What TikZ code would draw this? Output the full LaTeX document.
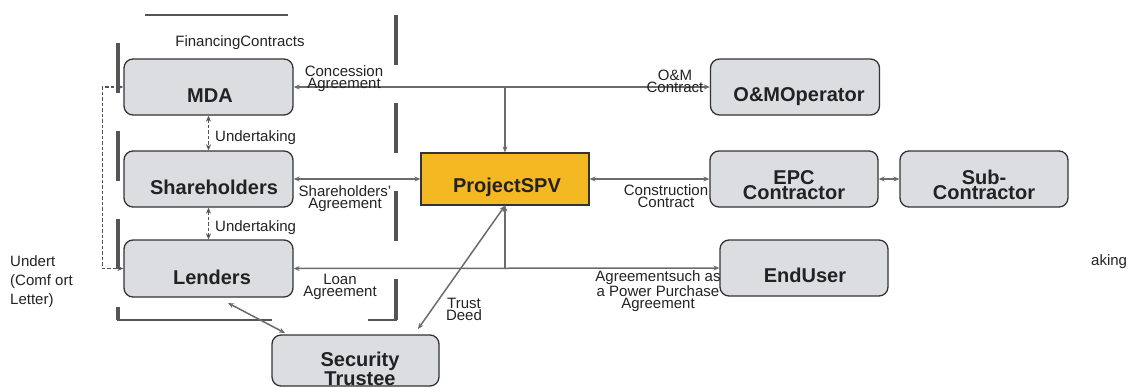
\documentclass[tikz,border=0pt]{standalone}
\usepackage{fontspec}
\setmainfont{Liberation Sans}
\usetikzlibrary{arrows.meta}
\definecolor{boxfill}{HTML}{DCDDE0}
\definecolor{boxline}{HTML}{333333}
\definecolor{spvfill}{HTML}{F4B922}
\definecolor{wire}{HTML}{6B6B6B}
\definecolor{barcol}{HTML}{555555}
\definecolor{ink}{HTML}{222222}
\tikzset{
  party/.style={draw=boxline, fill=boxfill, line width=1.3pt, rounded corners=9pt,
    inner sep=0pt, anchor=center},
  spvbox/.style={draw=boxline, fill=spvfill, line width=1.2pt, inner sep=0pt, anchor=center},
  partytxt/.style={text=ink, align=center, inner sep=0pt,
    font=\fontsize{20}{14}\selectfont\bfseries},
  lbl/.style={text=ink, align=center, inner sep=0pt, font=\fontsize{15}{12}\selectfont},
  sidetxt/.style={text=ink, align=left, inner sep=0pt, font=\fontsize{15}{19}\selectfont},
  conn/.style={draw=wire, line width=1.5pt, >={Stealth[length=6pt,width=5pt]}},
  dconn/.style={conn, draw=barcol, dash pattern=on 3.5pt off 2pt},
  bar/.style={draw=barcol, line width=4pt},
  thin/.style={draw=barcol, line width=1.5pt}
}
\begin{document}
\begin{tikzpicture}[x=1pt, y=-1pt]
\useasboundingbox (0,0) rectangle (1128,388);

% financing contracts group outline
\draw[thin] (145,15) -- (288,15);
\draw[bar, dash pattern=on 50pt off 38pt] (118,43) -- (118,320);
\draw[bar, dash pattern=on 50pt off 38pt] (396,15) -- (396,320);
\draw[thin] (117,320) -- (272,320);
\draw[thin] (368,320) -- (397,320);
\node[lbl] (fin) at (240,43) {FinancingContracts};

% parties
\node[party, minimum width=169pt, minimum height=56pt] (mda) at (208.5,87) {};
\node[party, minimum width=169pt, minimum height=56pt] (sh) at (208.5,179) {};
\node[party, minimum width=169pt, minimum height=57pt] (len) at (208.5,268.5) {};
\node[party, minimum width=167pt, minimum height=51pt] (st) at (355.5,360.5) {};
\node[spvbox, minimum width=168pt, minimum height=52pt] (spv) at (505,179) {};
\node[party, minimum width=169pt, minimum height=56pt] (om) at (795,87) {};
\node[party, minimum width=168pt, minimum height=56pt] (epc) at (794,179) {};
\node[party, minimum width=168pt, minimum height=56pt] (sub) at (984,179) {};
\node[party, minimum width=168pt, minimum height=56pt] (eu) at (804,268) {};

\node[partytxt] (mdaT) at (210,96) {MDA};
\node[partytxt] (shT) at (214,187) {Shareholders};
\node[partytxt] (lenT) at (212,277) {Lenders};
\node[partytxt, font=\fontsize{20}{13}\selectfont\bfseries] (stT) at (360,368.5) {Security\\Trustee};
\node[partytxt] (spvT) at (507,187) {ProjectSPV};
\node[partytxt] (omT) at (799,97) {O\&MOperator};
\node[partytxt] (epcT) at (794,185) {EPC\\Contractor};
\node[partytxt] (subT) at (984,185) {Sub-\\Contractor};
\node[partytxt] (euT) at (805,275) {EndUser};

% junctions and free ends
\coordinate (topJ) at (505,87);
\coordinate (botJ) at (505,268);
\coordinate (stTip) at (418,329);
\coordinate (lenLow) at (228,303);
\coordinate (stHigh) at (285,333);

% connectors
\draw[conn, <->] (mda.east) -- (om.west);
\draw[conn, ->] (topJ) -- (spv.north);
\draw[conn, <->] (sh.east) -- (spv.west);
\draw[conn, <->] (spv.east) -- (epc.west);
\draw[conn, <->] (epc.east) -- (sub.west);
\draw[conn, <->] (len.east) -- (eu.west);
\draw[conn, ->] (botJ) -- (spv.south);
\draw[conn, <->] (spv.south) -- (stTip);
\draw[conn, <->] (lenLow) -- (stHigh);
\draw[dconn, <->] (mda.south) -- (sh.north);
\draw[dconn, <->] (sh.south) -- (len.north);
\draw[dconn, <->] (mda.west) -- ++(-21,0) |- (len.west);

% connector labels
\node[lbl] (conc) at (344,79) {Concession\\Agreement};
\node[lbl] (omc) at (675,81) {O\&M\\Contract};
\node[lbl, anchor=west] (und1) at (215,138) {Undertaking};
\node[lbl, anchor=west] (und2) at (215,228) {Undertaking};
\node[lbl] (sha) at (345,199) {Shareholders'\\Agreement};
\node[lbl] (cc) at (666,196.5) {Construction\\Contract};
\node[lbl] (loan) at (340,286.5) {Loan\\Agreement};
\node[lbl] (td) at (464,309.5) {Trust\\Deed};
\node[lbl] (ppa) at (658,291) {Agreementsuch as\\a Power Purchase\\Agreement};

% side notes
\node[sidetxt, anchor=north west] (comf) at (10,255) {Undert\\(Comf ort\\Letter)};
\node[sidetxt, anchor=west] (aking) at (1091,262) {aking};
\end{tikzpicture}
\end{document}
